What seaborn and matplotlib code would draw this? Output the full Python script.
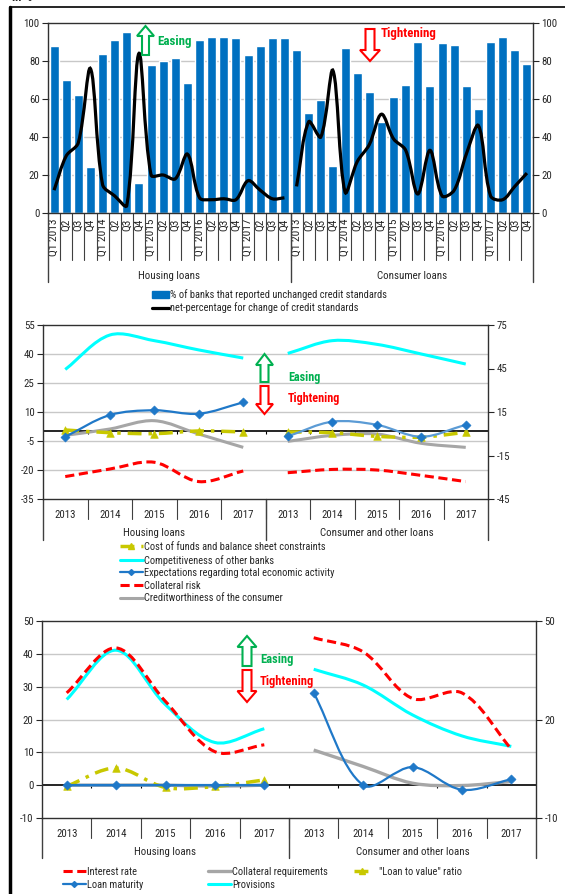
import numpy as np
import pandas as pd
import matplotlib.pyplot as plt
import seaborn as sns
from matplotlib.path import Path
from matplotlib.patches import PathPatch, Polygon, Patch
from matplotlib.lines import Line2D

# ---- data: panel 1 (quarterly, % of banks) ----
quarter_labels = ['Q1 2013', 'Q2', 'Q3', 'Q4', 'Q1 2014', 'Q2', 'Q3', 'Q4',
                  'Q1 2015', 'Q2', 'Q3', 'Q4', 'Q1 2016', 'Q2', 'Q3', 'Q4',
                  'Q1 2017', 'Q2', 'Q3', 'Q4']
housing_unchanged = [88, 70, 62, 24, 83.5, 91, 95.5, 16, 78, 80, 81.5, 68.5,
                     91, 92.5, 92.5, 92, 83, 88, 92, 92]
housing_net = [12, 30, 37, 76, 15, 9, 4, 84, 20, 20, 18, 31,
               8, 7, 7.5, 7, 17, 12, 7.5, 8]
consumer_unchanged = [86, 52.5, 59.5, 24.5, 87, 73.5, 63.5, 48, 61, 67.5, 90, 67,
                      89.5, 88.5, 67, 54.5, 90, 92.5, 86, 78.5]
consumer_net = [14, 48, 40, 75, 11, 27, 36, 52, 39, 33, 10, 33,
                9, 12, 31, 46, 9, 7, 14, 21]

# ---- data: panel 2 (factors, yearly) ----
years = ['2013', '2014', '2015', '2016', '2017']
cost_funds_h = [0.7, -0.7, -1.2, 0.2, -0.3]
cost_funds_c = [-0.3, -0.7, -2.6, -3.0, -0.5]
compet_h = [32, 49.8, 46.9, 42.1, 37.9]
compet_c = [40.3, 46.9, 45, 40, 34.8]
expect_h = [-2.8, 8.4, 10.9, 9.1, 15]
expect_c = [-2.6, 5, 3.4, -2.8, 3.4]
coll_risk_h = [-23.4, -19.5, -16, -26, -20.5]
coll_risk_c = [-21.4, -19.7, -20, -22.8, -26]
credit_h = [-2.1, 1.2, 5.5, -1.4, -8.3]
credit_c = [-5.2, -2.1, -1.4, -6.2, -8.3]

# ---- data: panel 3 (terms and conditions, yearly) ----
int_rate_h = [28.1, 41.8, 25.5, 10.2, 12.3]
int_rate_c = [44.9, 40.6, 26.4, 28.1, 11]
maturity_h = [0, 0, 0, 0, 0]
maturity_c = [28.1, 0, 5.5, -1.4, 1.8]
coll_req_h = [0, 0, 0, -0.3, 0]
coll_req_c = [10.7, 5.7, 0.6, -0.1, 1.1]
ltv_h = [-0.3, 5.2, -0.7, -0.4, 1.6]
provisions_h = [26.1, 41.1, 24.5, 13, 17.2]
provisions_c = [35.3, 30.5, 21.4, 15, 11.8]

BLUE = '#0070c0'
LBLUE = '#1f78c8'
CYAN = '#00ffff'
RED = '#ff0000'
GREY = '#a6a6a6'
YELLOW = '#c8c800'
GREEN = '#00b050'

sns.set_style('white')
plt.rcParams['font.family'] = ['Roboto Condensed', 'Liberation Sans', 'DejaVu Sans']
plt.rcParams['font.size'] = 7.5
plt.rcParams['axes.unicode_minus'] = False

W, H = 565, 894
fig = plt.figure(figsize=(W / 100, H / 100), dpi=100)


def ax_at(l, t, r, b):
    return fig.add_axes([l / W, 1 - b / H, (r - l) / W, (b - t) / H])


def smooth(ax, xs, ys, **kw):
    # Excel-like smoothed line: Catmull-Rom tangents split by chord length,
    # computed in screen space (axis limits must be set before calling)
    data = np.column_stack([np.asarray(xs, float), np.asarray(ys, float)])
    pts = ax.transData.transform(data)
    n = len(pts)
    cps = []
    for i in range(n):
        p0, p1, p2 = pts[max(i - 1, 0)], pts[i], pts[min(i + 1, n - 1)]
        d0 = np.hypot(*(p1 - p0))
        d1 = np.hypot(*(p2 - p1))
        t = p2 - p0
        s = d0 + d1 if d0 + d1 > 0 else 1
        cps.append((p1 - t * d0 / s / 3, p1 + t * d1 / s / 3))
    verts, codes = [pts[0]], [Path.MOVETO]
    for i in range(n - 1):
        verts += [cps[i][1], cps[i + 1][0], pts[i + 1]]
        codes += [Path.CURVE4] * 3
    verts = ax.transData.inverted().transform(np.array(verts))
    ax.add_patch(PathPatch(Path(verts, codes), fill=False, **kw))


def style_axes(ax, ylim, yticks, rticks, grid):
    ax.set_ylim(*ylim)
    ax.set_yticks(yticks)
    ax.set_ylabel('')
    ax.set_xlabel('')
    for g in grid:
        ax.axhline(g, color='#c8c8c8', lw=1, zorder=0)
    for s in ax.spines.values():
        s.set_color('#303030')
        s.set_linewidth(1)
    ax.tick_params(axis='y', direction='out', length=4, width=0.8, pad=2, left=True, labelsize=7.8)
    axr = ax.twinx()
    axr.set_ylim(*rticks[0])
    axr.set_yticks(rticks[1])
    axr.tick_params(axis='y', direction='out', length=4, width=0.8, pad=2, right=True, labelsize=7.8)
    for s in axr.spines.values():
        s.set_visible(False)
    return axr


def category_lines(ax, bounds, groups, sep_y, grp_y, lab_y, names):
    tr = ax.get_xaxis_transform()
    for b in bounds:
        ax.plot([b, b], [0, sep_y], transform=tr, clip_on=False, color='#404040', lw=0.8)
    for b in groups:
        ax.plot([b, b], [0, grp_y], transform=tr, clip_on=False, color='#404040', lw=1)
    for i, name in enumerate(names):
        ax.text((groups[i] + groups[i + 1]) / 2, lab_y, name, transform=tr,
                ha='center', va='center', fontsize=7.8)


def block_arrow(xc, y_tail, y_base, y_tip, body_w, head_w, color):
    pts = [(xc - body_w / 2, y_tail), (xc - body_w / 2, y_base), (xc - head_w / 2, y_base),
           (xc, y_tip), (xc + head_w / 2, y_base), (xc + body_w / 2, y_base),
           (xc + body_w / 2, y_tail)]
    fig.add_artist(Polygon([(x / W, 1 - y / H) for x, y in pts], closed=True,
                           transform=fig.transFigure, facecolor='white',
                           edgecolor=color, lw=1.5))


def ftext(x, y, s, **kw):
    fig.text(x / W, 1 - y / H, s, **kw)


def legend_at(x, y, handles, labels, hl=2.2, pad=0.1):
    fig.legend(handles=handles, labels=labels, loc='upper left',
               bbox_to_anchor=(x / W, 1 - y / H), frameon=False, fontsize=7.5,
               handlelength=hl, handletextpad=pad, labelspacing=0.25,
               borderaxespad=0, borderpad=0)


# ================= panel 1 =================
ax1 = ax_at(48, 23, 533, 213)
pos = np.arange(40)
df1 = pd.DataFrame({'pos': pos, 'unchanged': housing_unchanged + consumer_unchanged})
sns.barplot(data=df1, x='pos', y='unchanged', native_scale=True, color=BLUE,
            saturation=1, width=0.74, ax=ax1, zorder=2)
ax1.set_xlim(-0.5, 39.5)
style_axes(ax1, (0, 100), np.arange(0, 101, 20), ((0, 100), np.arange(0, 101, 20)),
           [20, 40, 60, 80])
smooth(ax1, pos[:20], housing_net, color='black', lw=2.3, zorder=3)
smooth(ax1, pos[20:], consumer_net, color='black', lw=2.3, zorder=3)
ax1.set_xticks(pos, quarter_labels * 2, rotation=90, fontsize=8.2)
ax1.tick_params(axis='x', length=0, pad=4)
category_lines(ax1, np.arange(0.5, 39, 1), [-0.5, 19.5, 39.5], -0.247, -0.363, -0.33,
               ['Housing loans', 'Consumer loans'])

block_arrow(145.5, 55, 36, 26, 7, 17, GREEN)
ftext(157, 42, 'Easing', color=GREEN, weight='bold', fontsize=9.3, va='center')
block_arrow(370, 29, 50, 61, 9, 20, RED)
ftext(381, 33, 'Tightening', color=RED, weight='bold', fontsize=9.3, va='center')

legend_at(152, 289, [Patch(color=BLUE), Line2D([], [], color='black', lw=2.3)],
          ['% of banks that reported unchanged credit standards',
           'net-percentage for change of credit standards'], hl=1.6)

# ================= panel 2 =================
ax2 = ax_at(43, 325, 488, 499)
x_h = np.arange(5)
x_c = np.arange(5, 10)
ax2.set_xlim(-0.5, 9.5)
style_axes(ax2, (-35, 55), np.arange(-35, 56, 15), ((-45, 75), np.arange(-45, 76, 30)),
           [-20, -5, 10, 25, 40])
ax2.axhline(0, color='black', lw=1.2, zorder=1)
ax2.vlines(np.arange(0.5, 9, 1), -1.5, 0, color='black', lw=0.8, zorder=1)

smooth(ax2, x_h, credit_h, color=GREY, lw=2.2, zorder=2)
smooth(ax2, x_c, credit_c, color=GREY, lw=2.2, zorder=2)
smooth(ax2, x_h, coll_risk_h, color=RED, lw=2.2, ls=(0, (3, 1.5)), zorder=3)
smooth(ax2, x_c, coll_risk_c, color=RED, lw=2.2, ls=(0, (3, 1.5)), zorder=3)
smooth(ax2, x_h, cost_funds_h, color=YELLOW, lw=2.5, ls=(0, (4, 2, 1, 2)), zorder=4)
smooth(ax2, x_c, cost_funds_c, color=YELLOW, lw=2.5, ls=(0, (4, 2, 1, 2)), zorder=4)
sns.scatterplot(x=np.r_[x_h, x_c], y=cost_funds_h + cost_funds_c, marker='^', s=30,
                color=YELLOW, edgecolor=YELLOW, ax=ax2, zorder=4)
smooth(ax2, x_h, compet_h, color=CYAN, lw=2.2, zorder=5)
smooth(ax2, x_c, compet_c, color=CYAN, lw=2.2, zorder=5)
smooth(ax2, x_h, expect_h, color=LBLUE, lw=1.6, zorder=6)
smooth(ax2, x_c, expect_c, color='#5b9bd5', lw=1.6, zorder=6)
sns.scatterplot(x=np.r_[x_h, x_c], y=expect_h + expect_c, marker='D', s=22,
                color=LBLUE, edgecolor=LBLUE, ax=ax2, zorder=7)
ax2.set_xlim(-0.5, 9.5)
ax2.set_ylim(-35, 55)
ax2.set_xticks(np.arange(10), years * 2)
ax2.tick_params(axis='x', length=0, pad=8, labelsize=7.8)
category_lines(ax2, np.arange(0.5, 9, 1), [-0.5, 4.5, 9.5], -0.115, -0.236, -0.195,
               ['Housing loans', 'Consumer and other loans'])

block_arrow(264.5, 382, 365, 354, 8, 17, GREEN)
ftext(288, 378, 'Easing', color=GREEN, weight='bold', fontsize=8.7, va='center')
block_arrow(264.5, 386, 404, 414, 8, 17, RED)
ftext(288, 398, 'Tightening', color=RED, weight='bold', fontsize=8.7, va='center')

legend_at(120, 542,
          [Line2D([], [], color=YELLOW, lw=2.5, ls=(0, (4, 2, 1, 2)), marker='^', ms=4),
           Line2D([], [], color=CYAN, lw=2.2),
           Line2D([], [], color=LBLUE, lw=1.6, marker='D', ms=3),
           Line2D([], [], color=RED, lw=2.2, ls=(0, (3, 1.5))),
           Line2D([], [], color=GREY, lw=2.2)],
          ['Cost of funds and balance sheet constraints',
           'Competitiveness of other banks',
           'Expectations regarding total economic activity',
           'Collateral risk',
           'Creditworthiness of the consumer'])

# ================= panel 3 =================
ax3 = ax_at(42, 621, 536, 818)
ax3.set_xlim(-0.5, 9.5)
style_axes(ax3, (-10, 50), np.arange(-10, 51, 10), ((-10, 50), [-10, 20, 50]),
           [10, 20, 30, 40])
ax3.axhline(0, color='black', lw=1.2, zorder=1)
ax3.vlines(np.arange(0.5, 9, 1), -0.9, 0, color='black', lw=0.8, zorder=1)

smooth(ax3, x_h, coll_req_h, color=GREY, lw=2.4, zorder=2)
smooth(ax3, x_c, coll_req_c, color=GREY, lw=2.4, zorder=2)
smooth(ax3, x_h, ltv_h, color=YELLOW, lw=2.5, ls=(0, (4, 2, 1, 2)), zorder=3)
sns.scatterplot(x=x_h, y=ltv_h, marker='^', s=30, color=YELLOW, edgecolor=YELLOW,
                ax=ax3, zorder=3)
smooth(ax3, x_h, provisions_h, color=CYAN, lw=2.2, zorder=4)
smooth(ax3, x_c, provisions_c, color=CYAN, lw=2.2, zorder=4)
smooth(ax3, x_h, int_rate_h, color=RED, lw=2.2, ls=(0, (3, 1.5)), zorder=5)
smooth(ax3, x_c, int_rate_c, color=RED, lw=2.2, ls=(0, (3, 1.5)), zorder=5)
smooth(ax3, x_h, maturity_h, color=LBLUE, lw=1.8, zorder=6)
smooth(ax3, x_c, maturity_c, color=LBLUE, lw=1.6, zorder=6)
sns.scatterplot(x=np.r_[x_h, x_c], y=maturity_h + maturity_c, marker='D', s=22,
                color=LBLUE, edgecolor=LBLUE, ax=ax3, zorder=7)
ax3.set_xlim(-0.5, 9.5)
ax3.set_ylim(-10, 50)
ax3.set_xticks(np.arange(10), years * 2)
ax3.tick_params(axis='x', length=0, pad=8, labelsize=7.8)
category_lines(ax3, np.arange(0.5, 9, 1), [-0.5, 4.5, 9.5], -0.10, -0.203, -0.173,
               ['Housing loans', 'Consumer and other loans'])

block_arrow(247, 666, 647, 636, 9, 19, GREEN)
ftext(260, 660, 'Easing', color=GREEN, weight='bold', fontsize=9, va='center')
block_arrow(247, 670, 691, 702, 9, 19, RED)
ftext(260, 681, 'Tightening', color=RED, weight='bold', fontsize=9, va='center')

legend_at(63, 867,
          [Line2D([], [], color=RED, lw=2.2, ls=(0, (3, 1.5))),
           Line2D([], [], color=LBLUE, lw=1.6, marker='D', ms=3)],
          ['Interest rate', 'Loan maturity'])
legend_at(208, 867,
          [Line2D([], [], color=GREY, lw=2.4), Line2D([], [], color=CYAN, lw=2.2)],
          ['Collateral requirements', 'Provisions'])
legend_at(354, 867,
          [Line2D([], [], color=YELLOW, lw=2.5, ls=(0, (4, 2, 1, 2)), marker='^', ms=4)],
          ['"Loan to value" ratio'], hl=1.6, pad=0.8)

# frame and cut-off heading
fig.add_artist(Line2D([10 / W, 10 / W], [0, 1 - 7 / H], color='black', lw=2.5,
                      transform=fig.transFigure))
fig.add_artist(Line2D([10 / W, 1], [1 - 7 / H, 1 - 7 / H], color='black', lw=1.2,
                      transform=fig.transFigure))
ftext(12, 4, 'in %', weight='bold', fontsize=9, va='bottom')

fig.savefig('out.png', dpi=100)
